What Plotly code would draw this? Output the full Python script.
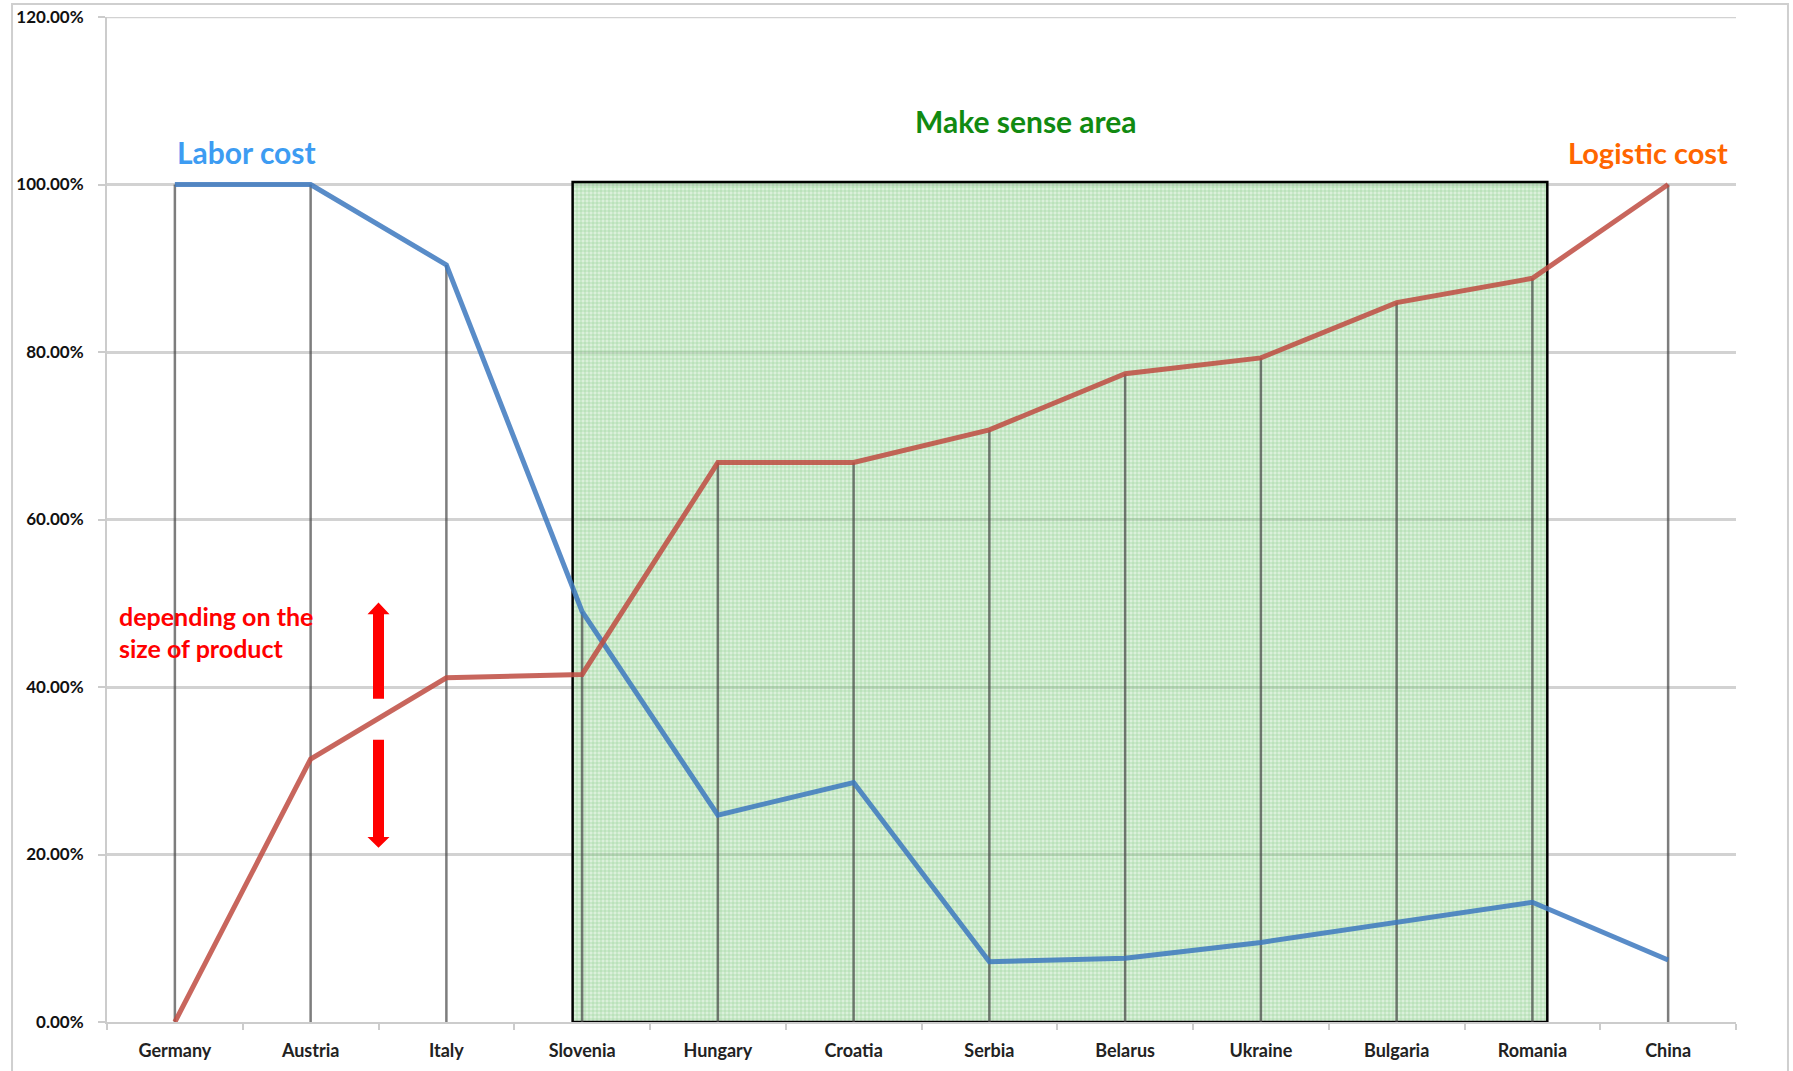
import plotly.graph_objects as go

countries = ["Germany", "Austria", "Italy", "Slovenia", "Hungary", "Croatia",
             "Serbia", "Belarus", "Ukraine", "Bulgaria", "Romania", "China"]
labor_cost = [100.0, 100.0, 90.4, 49.0, 24.7, 28.6, 7.2, 7.6, 9.5, 11.9, 14.3, 7.4]
logistic_cost = [0.0, 31.4, 41.1, 41.5, 66.8, 66.8, 70.7, 77.4, 79.3, 85.9, 88.8, 100.0]
y_ticks = [0, 20, 40, 60, 80, 100, 120]

# "Make sense area" spans Slovenia..Romania (category index units, percent units)
area_x = [2.93, 10.11]
area_y = [0.0, 100.3]

FONT = "Lato"
idx = list(range(len(countries)))

fig = go.Figure()

# patterned green area (below the lines)
fig.add_trace(go.Scatter(
    x=[area_x[0], area_x[1], area_x[1], area_x[0], area_x[0]],
    y=[area_y[0] / 100, area_y[0] / 100, area_y[1] / 100, area_y[1] / 100, area_y[0] / 100],
    mode="lines", fill="toself",
    fillpattern=dict(shape="+", size=4, solidity=0.3,
                     fgcolor="rgba(50,165,50,0.7)", bgcolor="rgba(175,222,175,0.45)"),
    line=dict(color="black", width=2.5),
    hoverinfo="skip", showlegend=False))

# drop lines from the higher series down to the axis
dx, dy = [], []
for i in idx:
    dx += [i, i, None]
    dy += [0, max(labor_cost[i], logistic_cost[i]) / 100, None]
fig.add_trace(go.Scatter(x=dx, y=dy, mode="lines",
                         line=dict(color="rgba(70,70,70,0.7)", width=2.5),
                         hoverinfo="skip", showlegend=False))

fig.add_trace(go.Scatter(x=idx, y=[v / 100 for v in labor_cost], mode="lines",
                         line=dict(color="rgba(60,120,190,0.85)", width=5), name="Labor cost",
                         showlegend=False))
fig.add_trace(go.Scatter(x=idx, y=[v / 100 for v in logistic_cost], mode="lines",
                         line=dict(color="rgba(190,75,65,0.85)", width=5), name="Logistic cost",
                         showlegend=False))

annotations = [
    dict(x=0.53, y=1.039, text="<b>Labor cost</b>", font=dict(color="#3d9cf2", size=30, family=FONT)),
    dict(x=10.85, y=1.038, text="<b>Logistic cost</b>", font=dict(color="#ff6600", size=29, family=FONT)),
    dict(x=6.27, y=1.076, text="<b>Make sense area</b>", font=dict(color="#118a11", size=30, family=FONT)),
    dict(x=-0.43, y=0.485, text="<b>depending on the</b>", xanchor="left",
         font=dict(color="#ff0000", size=25, family=FONT)),
    dict(x=-0.43, y=0.447, text="<b>size of product</b>", xanchor="left",
         font=dict(color="#ff0000", size=25, family=FONT)),
]
for a in annotations:
    a.update(xref="x", yref="y", showarrow=False)
    a.setdefault("xanchor", "center")
    a["yanchor"] = "middle"

def arrow_path(y_base, y_headbase, y_tip):
    return (f"M -5.5 {y_base} L 5.5 {y_base} L 5.5 {y_headbase} L 11 {y_headbase} "
            f"L 0 {y_tip} L -11 {y_headbase} L -5.5 {y_headbase} Z")

shapes = [
    dict(type="line", xref="paper", yref="y", x0=0, x1=1, y0=1.2, y1=1.2,
         line=dict(color="#d2d2d2", width=2.5), layer="below"),
    dict(type="path", xref="x", yref="y", xsizemode="pixel", xanchor=1.5,
         path=arrow_path(0.386, 0.487, 0.501), fillcolor="#ff0000", line=dict(width=0)),
    dict(type="path", xref="x", yref="y", xsizemode="pixel", xanchor=1.5,
         path=arrow_path(0.337, 0.221, 0.208), fillcolor="#ff0000", line=dict(width=0)),
    dict(type="rect", xref="paper", yref="paper", x0=-0.0583, x1=1.0319, y0=-0.06, y1=1.0129,
         line=dict(color="#cfcfcf", width=2), fillcolor="rgba(0,0,0,0)", layer="below"),
]

fig.update_layout(
    width=1793, height=1071,
    margin=dict(l=107, r=57, t=17, b=49, autoexpand=False),
    paper_bgcolor="white", plot_bgcolor="white",
    annotations=annotations, shapes=shapes,
    font=dict(family=FONT),
)
fig.update_xaxes(
    range=[-0.5, len(countries) - 0.5], tickmode="array", tickvals=idx, ticktext=countries,
    ticks="", showgrid=False, zeroline=False, showline=True, linecolor="#cccccc", linewidth=2,
    tickfont=dict(size=18, color="#222222", family=FONT, weight="bold"), ticklabelstandoff=11,
    automargin=False,
    minor=dict(tickmode="array", tickvals=[i - 0.5 for i in range(len(countries) + 1)],
               ticks="outside", ticklen=6, tickcolor="#cccccc", tickwidth=2, showgrid=False),
)
fig.update_yaxes(
    range=[0, 1.2], tickmode="array", tickvals=[v / 100 for v in y_ticks], tickformat=".2%",
    ticks="outside", ticklen=7, tickcolor="#cccccc", tickwidth=2,
    showgrid=True, gridcolor="#d2d2d2", gridwidth=2.5, zeroline=False,
    showline=True, linecolor="#cccccc", linewidth=2,
    tickfont=dict(size=17, color="#111111", family=FONT, weight="bold"), ticklabelstandoff=11,
    ticklabeloverflow="allow", automargin=False,
)

fig.write_html("out.html", config={"displayModeBar": False},
               post_script="document.body.style.margin='0';")
